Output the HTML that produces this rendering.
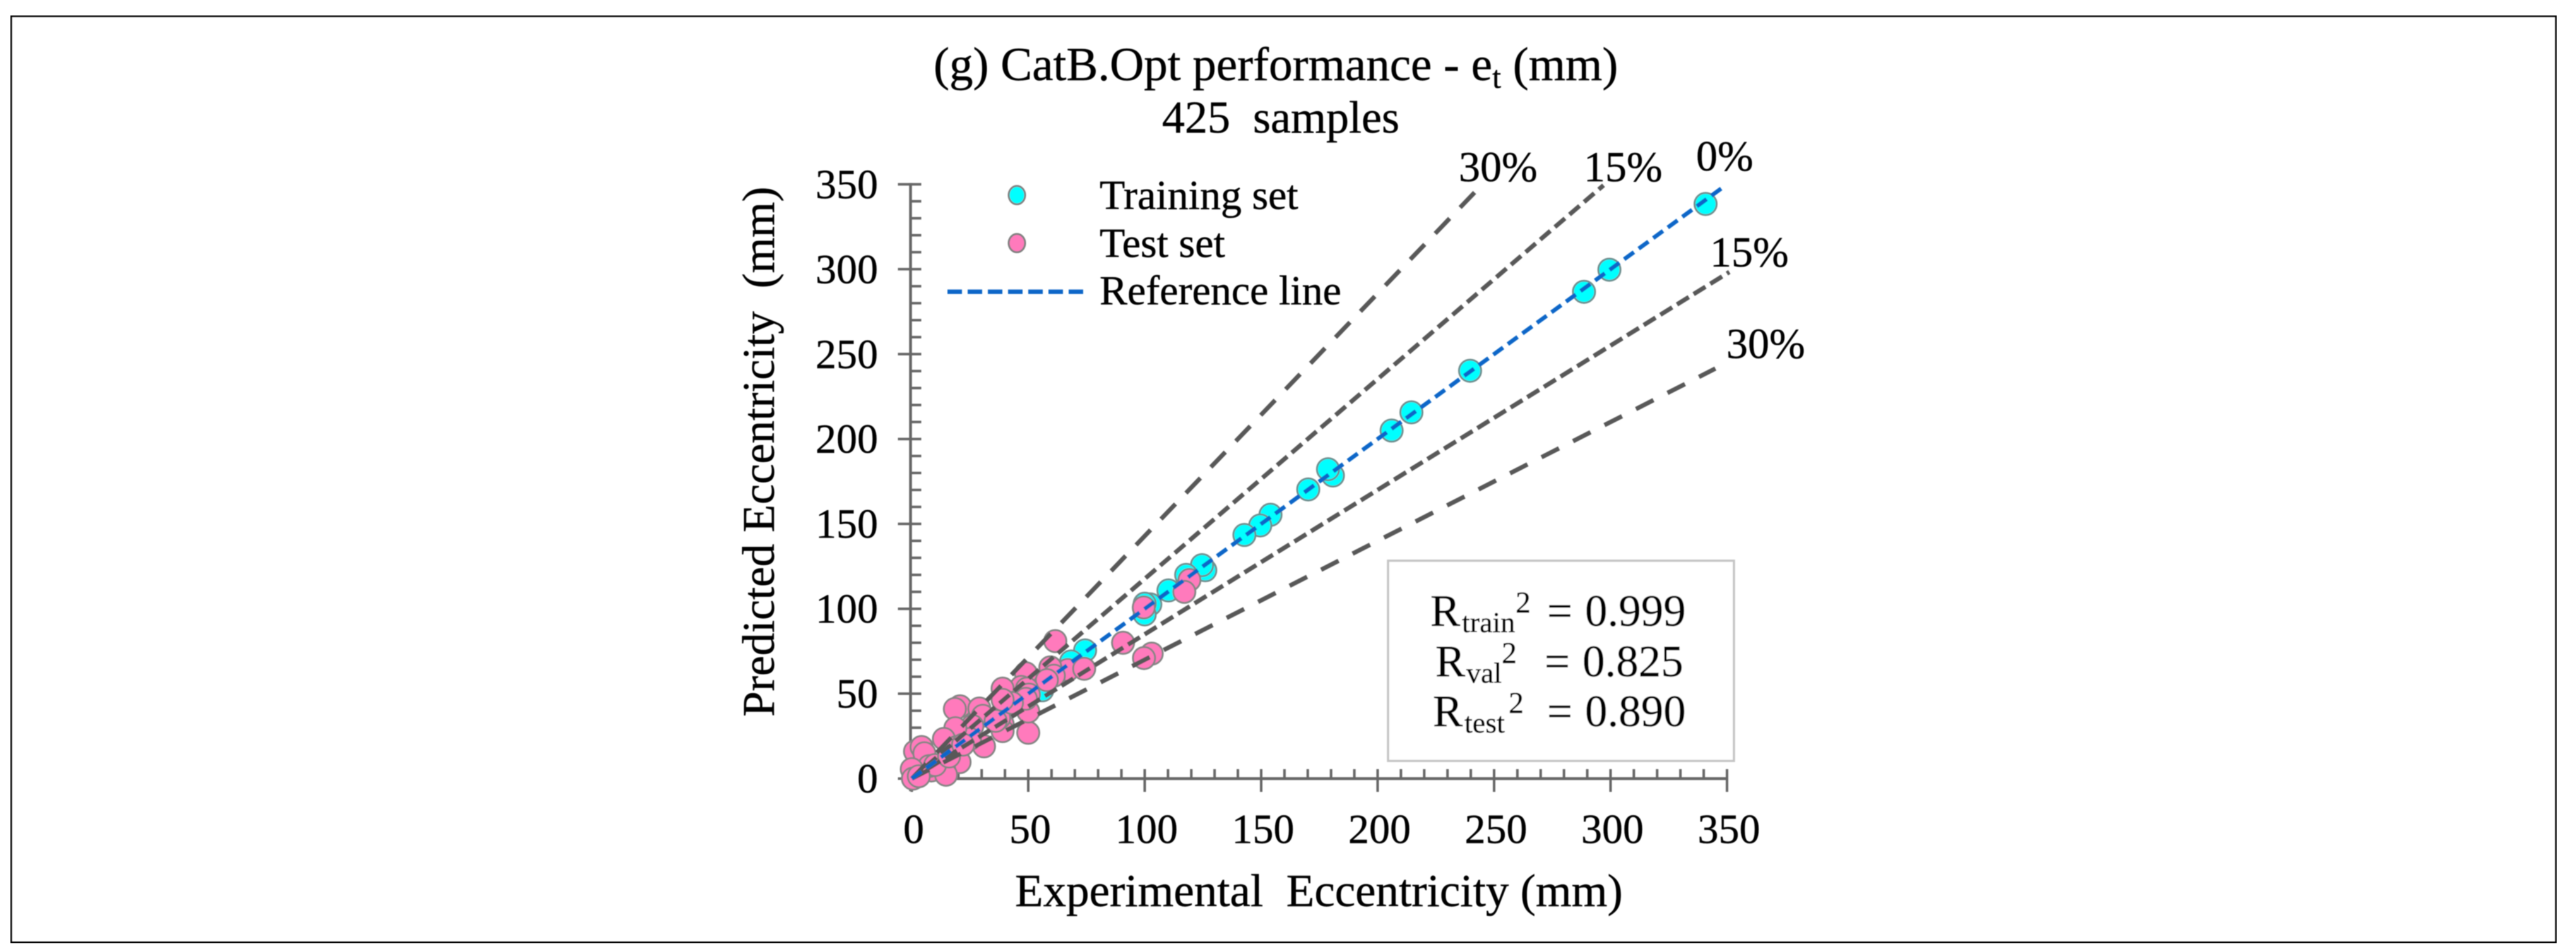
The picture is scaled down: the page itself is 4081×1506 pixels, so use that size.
<!DOCTYPE html>
<html lang="en">
<head>
<meta charset="utf-8">
<title>CatB.Opt performance</title>
<style>
html,body{margin:0;padding:0;background:#fff;}
svg{display:block;}
text{font-family:"Liberation Serif",serif;fill:#000;stroke:#000;stroke-width:0.5px;}
</style>
</head>
<body>
<svg id="chart" xmlns="http://www.w3.org/2000/svg" width="4081" height="1506" viewBox="0 0 4081 1506">
<defs><filter id="soft" x="0" y="0" width="100%" height="100%"><feGaussianBlur stdDeviation="0.9"/></filter></defs>
<rect x="0" y="0" width="4081" height="1506" fill="#ffffff"/>
<g id="root" filter="url(#soft)">
<rect x="16.5" y="24.5" width="4034" height="1469" fill="none" stroke="#000" stroke-width="5"/>
<text x="1479" y="127" font-size="75" xml:space="preserve">(g) CatB.Opt performance - e<tspan font-size="50" dy="12">t</tspan><tspan dy="-12"> (mm)</tspan></text>
<text x="1841" y="210" font-size="72">425&#160;&#160;samples</text>
<g id="axes"></g>
<g id="train-series"></g>
<g id="test-series"></g>
<g id="bands"></g>
<text x="2311" y="287" font-size="68">30%</text>
<text x="2509" y="287" font-size="68">15%</text>
<text x="2687" y="270" font-size="68">0%</text>
<text x="2709" y="422" font-size="68">15%</text>
<text x="2735" y="567" font-size="68">30%</text>
<g>
<ellipse cx="1611" cy="309" rx="13" ry="14.5" fill="#00ffff" stroke="#808080" stroke-width="3"/>
<text x="1742" y="331" font-size="66">Training set</text>
<ellipse cx="1611" cy="385" rx="13" ry="14.5" fill="#ff7abc" stroke="#808080" stroke-width="3"/>
<text x="1742" y="407" font-size="66">Test set</text>
<line x1="1501" y1="462" x2="1718" y2="462" stroke="#0a66c8" stroke-width="7" stroke-dasharray="23 9"/>
<text x="1742" y="482" font-size="66">Reference line</text>
</g>
<rect x="2199" y="888" width="548" height="317" fill="#ffffff" stroke="#c4c4c4" stroke-width="3.5"/>
<g>
<text font-size="71"><tspan x="2266" y="991">R</tspan><tspan x="2316" y="1001" font-size="46">train</tspan><tspan x="2401" y="970" font-size="48">2</tspan><tspan x="2451" y="991">=</tspan><tspan x="2511" y="991">0.999</tspan></text>
<text font-size="71"><tspan x="2274" y="1071">R</tspan><tspan x="2323" y="1081" font-size="46">val</tspan><tspan x="2379" y="1050" font-size="48">2</tspan><tspan x="2447" y="1071">=</tspan><tspan x="2507" y="1071">0.825</tspan></text>
<text font-size="71"><tspan x="2270" y="1150">R</tspan><tspan x="2320" y="1160" font-size="46">test</tspan><tspan x="2390" y="1129" font-size="48">2</tspan><tspan x="2451" y="1150">=</tspan><tspan x="2511" y="1150">0.890</tspan></text>
</g>
<text x="1608" y="1435" font-size="73" xml:space="preserve">Experimental&#160;&#160;Eccentricity (mm)</text>
<text transform="translate(1226,1135) rotate(-90)" font-size="72.5" xml:space="preserve">Predicted Eccentricity&#160;&#160;(mm)</text>
</g>
</svg>
<script>
const xTickLabels = [0, 50, 100, 150, 200, 250, 300, 350];
const yTickLabels = [0, 50, 100, 150, 200, 250, 300, 350];
const minorStep = 10;
const trainX = [340.8, 299.5, 288.6, 239.7, 214.5, 206, 180.8, 178.7, 170.2, 154, 149.6, 142.8, 126, 124.6, 117.8, 110.2, 102.4, 100, 100, 74.4, 68.4, 56];
const trainY = [338.4, 299.7, 286.7, 240.2, 215.7, 205, 178.5, 182.2, 170.3, 155.4, 149.1, 143.5, 122.7, 125.7, 120, 110.8, 102.6, 96.7, 103, 75.5, 69, 52];
const testX = [119.2, 117, 99.6, 90.7, 103, 99.7, 61.6, 67, 59.5, 61, 74, 58, 49, 47, 49.4, 50, 50, 50.3, 49, 39, 39, 39, 37.5, 43, 39, 20.7, 18.5, 29, 30.5, 31, 26, 25, 18.7, 13.8, 19.3, 1.4, 4.2, 5.4, 19, 20.5, 8.4, 14, 14.7, 7.5, 10, 16, 22, 36, 0, 0.5, 3];
const testY = [117, 110, 100.8, 80, 73.6, 71, 81, 64, 65.5, 60.6, 64.7, 58, 62, 54, 53, 27, 39.5, 49.5, 47, 53, 32, 28, 35.7, 44.6, 46.4, 42.6, 41, 41.3, 37, 19, 31, 23.4, 29.7, 23.4, 18.6, 16, 18.6, 14.9, 11, 9.7, 4.8, 4.8, 2.3, 7.4, 8, 13, 20, 34, 5.6, 0, 1.4];
const bandSlopes = [1.4286, 1.1765, 0.85, 0.7];
const bandEndX = [245, 297, 351, 345];
const bandDashes = ["33 24", "21 9.5", "22 9", "31 25"];
const referenceEnd = 348;

const NS = 'http://www.w3.org/2000/svg';
const sx = v => 1444.5 + v * 3.69;
const sy = v => 1233 - v * 2.689;
function mk(parent, tag, props) {
  const el = document.createElementNS(NS, tag);
  for (const k in props) el.setAttribute(k, props[k]);
  parent.appendChild(el);
  return el;
}
const axes = document.getElementById('axes');
const axisStyle = {stroke: '#666666', 'stroke-width': 4.5};

const xLine = mk(axes, 'line', Object.assign({x1: sx(0) - 2, y1: sy(0), x2: sx(350) + 2, y2: sy(0)}, axisStyle));


const yLine = mk(axes, 'line', Object.assign({x1: sx(0) - 2, y1: sy(0) + 20, x2: sx(0) - 2, y2: sy(350) - 2}, axisStyle));



for (let v = 0; v <= 350; v += minorStep) {
  const major = v % 50 === 0;
  const xt = mk(axes, 'line', Object.assign({x1: sx(v), y1: sy(0) - 15, x2: sx(v), y2: sy(0) + (major ? 21 : 0)}, axisStyle, {'stroke-width': 4}));
  
  
  const yt = mk(axes, 'line', Object.assign({x1: sx(0) - 2 - (major ? 20 : 0), y1: sy(v), x2: sx(0) + 15, y2: sy(v)}, axisStyle, {'stroke-width': 4}));
  
  
}
xTickLabels.forEach(v => {
  const t = mk(axes, 'text', {x: sx(v) + 3, y: 1335, 'font-size': 66, 'text-anchor': 'middle'});
  t.textContent = v;
  
  
});
yTickLabels.forEach(v => {
  const t = mk(axes, 'text', {x: 1391, y: sy(v) + 22, 'font-size': 66, 'text-anchor': 'end'});
  t.textContent = v;
  
  
});

const trainG = document.getElementById('train-series');
trainX.forEach((x, i) => {
  const c = mk(trainG, 'circle', {cx: sx(x), cy: sy(trainY[i]), r: 17.5, fill: '#00ffff', stroke: '#6f8f8f', 'stroke-width': 3});
  
  
});
const testG = document.getElementById('test-series');
testX.forEach((x, i) => {
  const c = mk(testG, 'circle', {cx: sx(x), cy: sy(testY[i]), r: 17.5, fill: '#ff7abc', stroke: '#858585', 'stroke-width': 3});
  
  
});

const bands = document.getElementById('bands');
bandSlopes.forEach((s, i) => {
  const l = mk(bands, 'line', {x1: sx(0), y1: sy(0), x2: sx(bandEndX[i]), y2: sy(bandEndX[i] * s), stroke: '#595959', 'stroke-width': 7, 'stroke-dasharray': bandDashes[i]});
  
  
});
const ref = mk(bands, 'line', {x1: sx(0), y1: sy(0), x2: sx(referenceEnd), y2: sy(referenceEnd), stroke: '#0a66c8', 'stroke-width': 6.5, 'stroke-dasharray': '19 9.5'});


</script>
</body>
</html>
